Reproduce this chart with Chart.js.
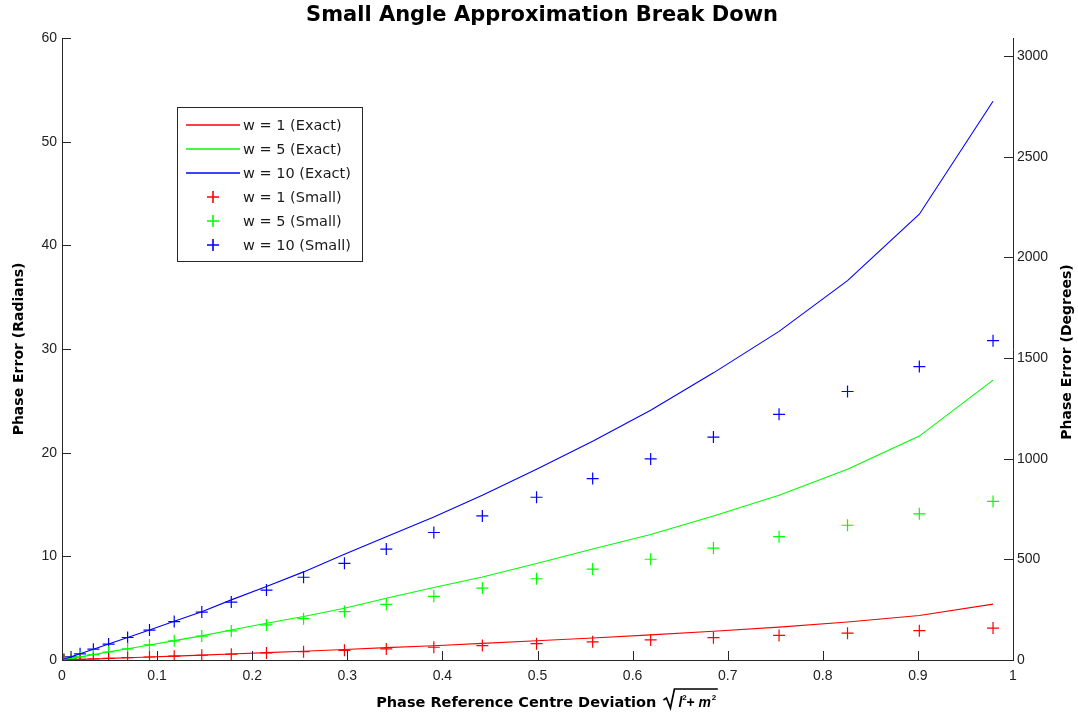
<!DOCTYPE html>
<html><head><meta charset="utf-8">
<script src="https://cdn.jsdelivr.net/npm/chart.js@4.4.0/dist/chart.umd.min.js"></script>
<style>html,body{margin:0;padding:0;background:#fff;}#wrap{width:1078px;height:717px;}</style>
</head><body><div id="wrap"><canvas id="c" width="1078" height="717"></canvas></div>
<script>
// ---- data ----
const deviation = [0.002, 0.0095, 0.019, 0.033, 0.049, 0.069, 0.092, 0.118, 0.147, 0.178, 0.215, 0.254, 0.297, 0.341, 0.391, 0.442, 0.499, 0.558, 0.619, 0.685, 0.754, 0.826, 0.9015, 0.979];
const exactW1  = [0.006, 0.03, 0.06, 0.10, 0.16, 0.22, 0.29, 0.37, 0.47, 0.58, 0.71, 0.85, 1.02, 1.19, 1.38, 1.60, 1.85, 2.12, 2.42, 2.78, 3.17, 3.66, 4.30, 5.39];
const exactW5  = [0.03, 0.15, 0.30, 0.52, 0.78, 1.09, 1.45, 1.87, 2.33, 2.90, 3.55, 4.20, 5.00, 5.95, 7.00, 8.00, 9.30, 10.7, 12.1, 13.9, 15.9, 18.4, 21.6, 27.0];
const exactW10 = [0.06, 0.30, 0.60, 1.04, 1.55, 2.18, 2.90, 3.73, 4.66, 5.80, 7.10, 8.50, 10.2, 11.9, 13.8, 15.9, 18.4, 21.1, 24.1, 27.7, 31.7, 36.6, 43.0, 53.9];
const smallW1  = [0.006, 0.03, 0.06, 0.10, 0.15, 0.22, 0.29, 0.37, 0.46, 0.56, 0.68, 0.80, 0.93, 1.07, 1.23, 1.39, 1.57, 1.75, 1.94, 2.15, 2.37, 2.59, 2.83, 3.08];
const smallW5  = [0.03, 0.15, 0.30, 0.52, 0.77, 1.08, 1.45, 1.85, 2.31, 2.80, 3.38, 3.99, 4.67, 5.36, 6.14, 6.94, 7.84, 8.77, 9.72, 10.8, 11.9, 13.0, 14.1, 15.3];
const smallW10 = [0.06, 0.30, 0.60, 1.04, 1.54, 2.17, 2.89, 3.71, 4.62, 5.59, 6.75, 7.98, 9.33, 10.7, 12.3, 13.9, 15.7, 17.5, 19.4, 21.5, 23.7, 25.9, 28.3, 30.8];
const seriesLabels = ['w = 1 (Exact)', 'w = 5 (Exact)', 'w = 10 (Exact)', 'w = 1 (Small)', 'w = 5 (Small)', 'w = 10 (Small)'];
const xTicks = [0, 0.1, 0.2, 0.3, 0.4, 0.5, 0.6, 0.7, 0.8, 0.9, 1];
const radianTicks = [0, 10, 20, 30, 40, 50, 60];
const degreeTicks = [0, 500, 1000, 1500, 2000, 2500, 3000];
const titleText = 'Small Angle Approximation Break Down';
const yLeftTitle = 'Phase Error (Radians)';
const yRightTitle = 'Phase Error (Degrees)';
const xTitle = 'Phase Reference Centre Deviation ';

const FONT = '"Liberation Sans", Arial, Helvetica, sans-serif';
const WFONT = '"DejaVu Sans", Verdana, sans-serif';
const RED = '#ff0000', GREEN = '#00ff00', BLUE = '#0000ff';
const pts = arr => deviation.map((x, i) => ({x: x, y: arr[i]}));

function lineDs(label, arr, color) {
  return {label, data: pts(arr), borderColor: color, backgroundColor: color, borderWidth: 1.1,
    pointRadius: 0, pointHoverRadius: 0, showLine: true, fill: false, tension: 0, yAxisID: 'y', isLine: true};
}
function markDs(label, arr, color) {
  return {label, data: pts(arr), borderColor: color, backgroundColor: color, borderWidth: 1.2,
    pointStyle: 'cross', pointRadius: 6, pointHoverRadius: 6, showLine: false, fill: false, yAxisID: 'y', isLine: false};
}
const setTicks = vals => scale => { scale.ticks = vals.map(v => ({value: v})); };
const fmt = v => String(Math.round(v * 10) / 10);

const decor = {
  id: 'decor',
  afterDraw(chart) {
    const ctx = chart.ctx;
    const ca = chart.chartArea;
    const sx = chart.scales.x, sy = chart.scales.y, sy2 = chart.scales.y2;
    ctx.save();
    // inward ticks
    ctx.strokeStyle = '#262626';
    ctx.lineWidth = 1;
    ctx.beginPath();
    sx.ticks.forEach(t => { const p = Math.round(sx.getPixelForValue(t.value)) + 0.5; ctx.moveTo(p, ca.bottom); ctx.lineTo(p, ca.bottom - 9); });
    sy.ticks.forEach(t => { const p = Math.round(sy.getPixelForValue(t.value)) + 0.5; ctx.moveTo(ca.left, p); ctx.lineTo(ca.left + 9, p); });
    sy2.ticks.forEach(t => { const p = Math.round(sy2.getPixelForValue(t.value)) + 0.5; ctx.moveTo(ca.right, p); ctx.lineTo(ca.right - 9, p); });
    ctx.stroke();

    // title
    ctx.fillStyle = '#000';
    ctx.textAlign = 'center';
    ctx.textBaseline = 'middle';
    ctx.font = 'bold 21px ' + WFONT;
    ctx.fillText(titleText, 542, 16);

    // y titles
    ctx.font = 'bold 14px ' + WFONT;
    ctx.save(); ctx.translate(19, 349); ctx.rotate(-Math.PI / 2); ctx.fillText(yLeftTitle, 0, 0); ctx.restore();
    ctx.save(); ctx.translate(1067, 352); ctx.rotate(-Math.PI / 2); ctx.fillText(yRightTitle, 0, 0); ctx.restore();

    // x title with radical
    ctx.textAlign = 'left';
    ctx.textBaseline = 'alphabetic';
    ctx.font = 'bold 14.5px ' + WFONT;
    const mainW = ctx.measureText(xTitle).width;
    ctx.font = 'italic bold 14px ' + FONT;
    const wl = ctx.measureText('l').width, wp = ctx.measureText('+ ').width, wm = ctx.measureText('m').width;
    const radW = 14 + wl + 5 + wp + wm + 7;
    let x0 = 546 - (mainW + radW) / 2;
    const base = 707;
    ctx.font = 'bold 14.5px ' + WFONT;
    ctx.fillText(xTitle, x0, base);
    let rx = x0 + mainW + 2;
    ctx.lineWidth = 1.7;
    ctx.strokeStyle = '#000';
    ctx.beginPath();
    ctx.moveTo(rx, base - 7);
    ctx.lineTo(rx + 3, base - 9);
    ctx.lineTo(rx + 7, base + 1);
    ctx.lineTo(rx + 11, base - 18);
    ctx.lineTo(rx + radW, base - 18);
    ctx.stroke();
    let cx = rx + 15;
    ctx.font = 'italic bold 14px ' + FONT;
    ctx.fillText('l', cx, base); cx += wl;
    ctx.font = 'bold 8px ' + FONT;
    ctx.fillText('2', cx, base - 7); cx += 4;
    ctx.font = 'italic bold 14px ' + FONT;
    ctx.fillText('+ ', cx, base); cx += wp;
    ctx.fillText('m', cx, base); cx += wm;
    ctx.font = 'bold 8px ' + FONT;
    ctx.fillText('2', cx + 1, base - 7);

    // legend
    const lx = 177.5, ly = 107.5, lw = 185, lh = 154;
    ctx.fillStyle = '#fff';
    ctx.fillRect(lx, ly, lw, lh);
    ctx.strokeStyle = '#262626';
    ctx.lineWidth = 1;
    ctx.strokeRect(lx, ly, lw, lh);
    ctx.font = '14.5px ' + WFONT;
    ctx.textBaseline = 'middle';
    chart.data.datasets.forEach((ds, i) => {
      const y = 125 + i * 24;
      ctx.strokeStyle = ds.borderColor;
      ctx.lineWidth = 1.6;
      ctx.beginPath();
      if (ds.isLine) { ctx.moveTo(186, y); ctx.lineTo(240, y); }
      else { ctx.moveTo(207, y); ctx.lineTo(219, y); ctx.moveTo(213, y - 6); ctx.lineTo(213, y + 6); }
      ctx.stroke();
      ctx.fillStyle = '#1a1a1a';
      ctx.fillText(ds.label, 243, y + 1);
    });
    ctx.restore();
  }
};

new Chart(document.getElementById('c'), {
  type: 'line',
  data: {
    datasets: [
      lineDs(seriesLabels[0], exactW1, RED),
      lineDs(seriesLabels[1], exactW5, GREEN),
      lineDs(seriesLabels[2], exactW10, BLUE),
      markDs(seriesLabels[3], smallW1, RED),
      markDs(seriesLabels[4], smallW5, GREEN),
      markDs(seriesLabels[5], smallW10, BLUE)
    ]
  },
  options: {
    responsive: false,
    animation: false,
    events: [],
    layout: {padding: {top: 38, left: 0, right: 0, bottom: 0}},
    plugins: {legend: {display: false}, tooltip: {enabled: false}, title: {display: false}},
    scales: {
      x: {
        type: 'linear', min: 0, max: 1,
        grid: {display: false, drawTicks: false},
        border: {display: true, color: '#262626', width: 1},
        afterBuildTicks: setTicks(xTicks),
        ticks: {padding: 8, color: '#222', font: {family: FONT, size: 14}, maxRotation: 0, autoSkip: false, callback: fmt},
        afterFit: s => { s.height = 57; }
      },
      y: {
        type: 'linear', position: 'left', min: 0, max: 60,
        grid: {display: false, drawTicks: false},
        border: {display: true, color: '#262626', width: 1},
        afterBuildTicks: setTicks(radianTicks),
        ticks: {padding: 5, color: '#222', font: {family: FONT, size: 14}, autoSkip: false, callback: v => String(v)},
        afterFit: s => { s.width = 62; }
      },
      y2: {
        type: 'linear', position: 'right', min: 0, max: 3090,
        grid: {display: false, drawTicks: false},
        border: {display: true, color: '#262626', width: 1},
        afterBuildTicks: setTicks(degreeTicks),
        ticks: {padding: 4, color: '#222', font: {family: FONT, size: 14}, autoSkip: false, callback: v => String(v)},
        afterFit: s => { s.width = 65; }
      }
    }
  },
  plugins: [decor]
});
</script>
</body></html>
